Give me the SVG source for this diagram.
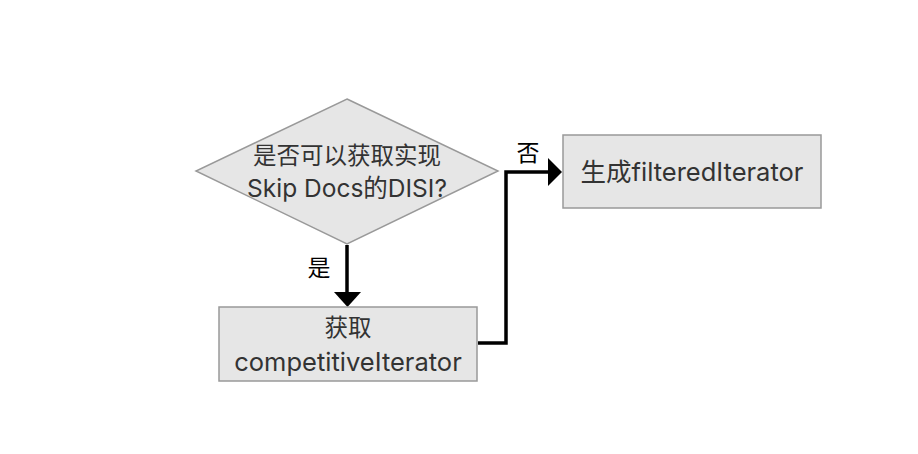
<svg xmlns="http://www.w3.org/2000/svg" width="918" height="454" viewBox="0 0 918 454">
<defs>
<style>
.shape{fill:#e6e6e6;stroke:#999;stroke-width:1.5}
.t{font-family:"Inter","Noto Sans CJK SC",sans-serif;font-size:25.5px;fill:#333;text-anchor:middle}
.cjk{font-size:23.5px}
.dl{font-size:24.5px}
.lbl{font-family:"Noto Sans CJK SC","Inter",sans-serif;font-size:23px;fill:#000;text-anchor:middle}
.edge{fill:none;stroke:#000;stroke-width:3.5}
</style>
</defs>
<rect width="918" height="454" fill="#fff"/>
<g id="edges">
<path class="edge" d="M347,245 V294"/>
<path d="M334,292 L361,292 L347.5,307 Z" fill="#000"/>
<path class="edge" d="M478,343 H506 V172 H548"/>
<path d="M548,158 L548,186 L562,172 Z" fill="#000"/>
<text class="lbl" x="319" y="276">是</text>
<text class="lbl" x="528" y="161">否</text>
</g>
<g id="decision">
<polygon class="shape" points="347,99 498,171 347,244 196,171"/>
<text class="t cjk" x="347" y="164">是否可以获取实现</text>
<text class="t dl" x="347" y="197">Skip Docs的DISI?</text>
</g>
<g id="filtered">
<rect class="shape" x="563" y="135" width="258" height="73"/>
<text class="t" x="692" y="181">生成filteredIterator</text>
</g>
<g id="competitive">
<rect class="shape" x="219" y="307" width="258" height="74"/>
<text class="t cjk" x="348" y="336">获取</text>
<text class="t" x="348" y="371">competitiveIterator</text>
</g>
</svg>
